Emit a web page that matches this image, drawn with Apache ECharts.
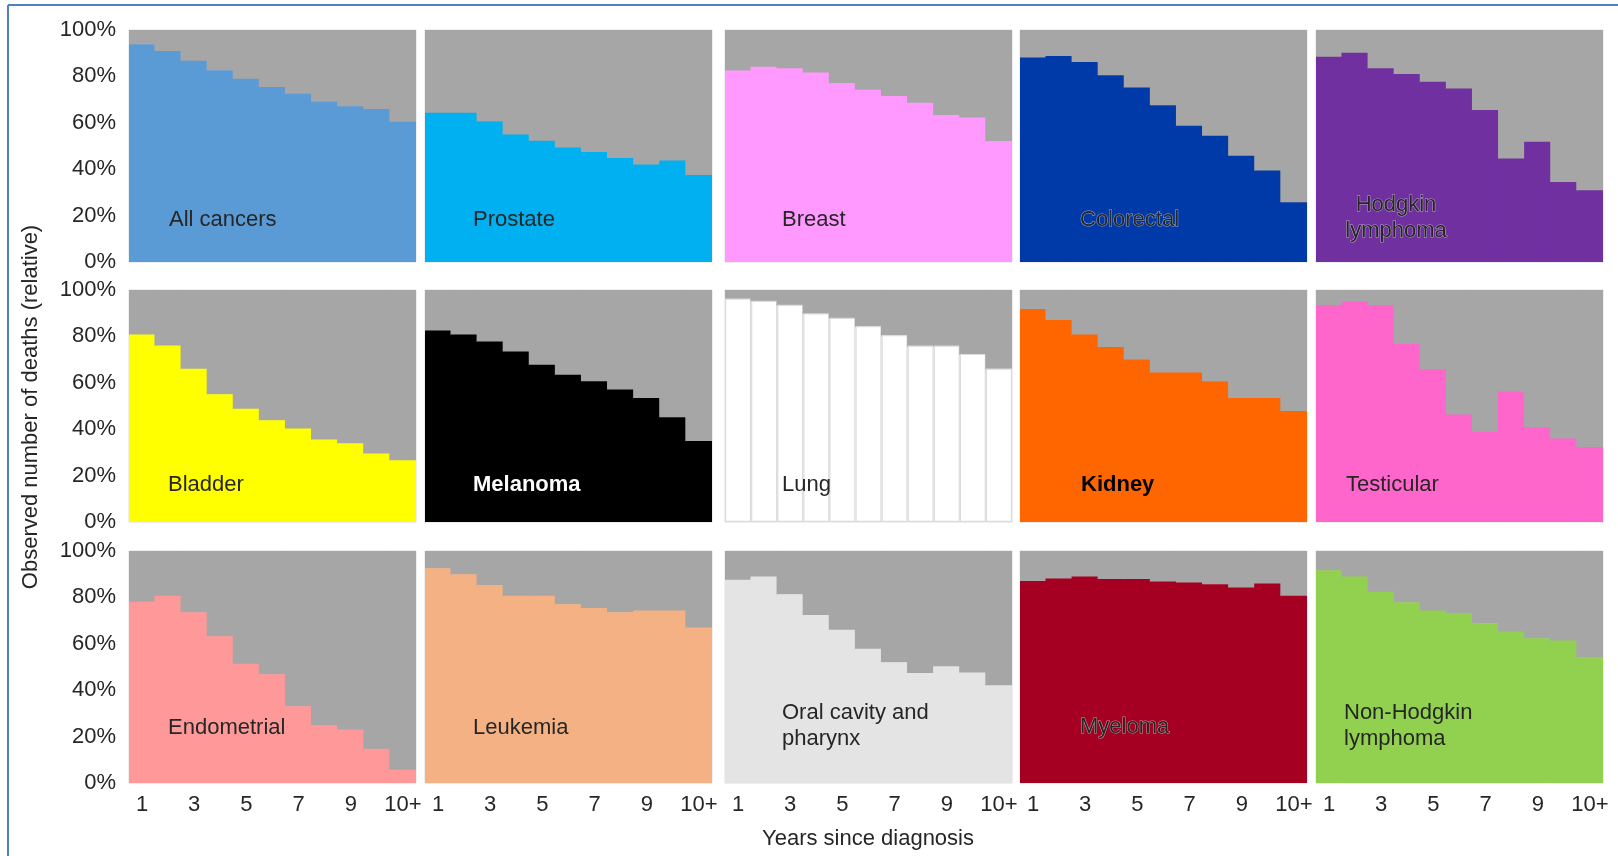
<!DOCTYPE html>
<html>
<head>
<meta charset="utf-8">
<script src="https://cdn.jsdelivr.net/npm/echarts@6/dist/echarts.min.js"></script>
<style>
  html, body { margin: 0; padding: 0; background: #ffffff; }
  #chart { width: 1618px; height: 856px; }
</style>
</head>
<body>
<div id="chart"></div>
<script>
// Years since diagnosis (x categories); only odd years and "10+" are labelled
const years = ['1', '2', '3', '4', '5', '6', '7', '8', '9', '10', '10+'];
const yTicks = [0, 20, 40, 60, 80, 100];

// Share of observed deaths (%) attributed to the cancer, by year since diagnosis
const allCancers   = [93.9, 91.0, 86.7, 82.7, 79.0, 75.4, 72.5, 69.1, 67.1, 66.0, 60.4];
const prostate     = [64.3, 64.3, 60.7, 55.0, 52.3, 49.4, 47.4, 44.8, 42.0, 43.8, 37.5];
const breast       = [82.5, 84.2, 83.5, 81.7, 77.1, 74.2, 71.6, 68.6, 63.3, 62.3, 52.1];
const colorectal   = [88.1, 88.8, 86.2, 80.5, 75.2, 67.6, 58.7, 54.4, 45.8, 39.4, 25.8];
const hodgkin      = [88.5, 90.2, 83.5, 81.0, 77.7, 74.8, 65.5, 44.6, 51.8, 34.5, 30.9];
const bladder      = [80.8, 76.1, 66.1, 55.1, 48.8, 43.9, 40.3, 35.6, 33.9, 29.5, 26.6];
const melanoma     = [82.5, 80.8, 77.8, 73.5, 67.8, 63.5, 60.7, 57.1, 53.5, 45.2, 34.9];
const lung         = [96.1, 95.1, 93.4, 89.7, 87.8, 84.2, 80.3, 75.8, 75.8, 72.2, 65.9];
const kidney       = [91.8, 87.1, 80.8, 75.4, 70.0, 64.4, 64.4, 60.7, 53.4, 53.4, 47.8];
const testicular   = [93.5, 95.1, 93.5, 76.7, 65.9, 46.3, 38.9, 56.3, 40.8, 36.0, 32.3];
const endometrial  = [78.1, 80.7, 73.6, 63.3, 51.4, 46.9, 33.1, 25.0, 23.1, 14.7, 5.7];
const leukemia     = [92.6, 90.0, 85.3, 80.7, 80.7, 77.1, 75.4, 73.6, 74.3, 74.3, 67.0];
const oralPharynx  = [87.6, 89.0, 81.4, 72.4, 66.1, 57.9, 52.1, 47.4, 50.3, 47.6, 42.1];
const myeloma      = [87.1, 88.1, 89.0, 87.9, 87.9, 86.9, 86.4, 85.7, 84.3, 86.0, 80.7];
const nonHodgkin   = [91.7, 89.0, 82.4, 77.9, 74.3, 73.3, 68.9, 65.3, 62.4, 61.4, 54.3];

// Panels in reading order (3 rows x 5 columns)
const panelNames = [
  'All cancers', 'Prostate', 'Breast', 'Colorectal', 'Hodgkin\nlymphoma',
  'Bladder', 'Melanoma', 'Lung', 'Kidney', 'Testicular',
  'Endometrial', 'Leukemia', 'Oral cavity and\npharynx', 'Myeloma', 'Non-Hodgkin\nlymphoma'
];
const panelValues = [
  allCancers, prostate, breast, colorectal, hodgkin,
  bladder, melanoma, lung, kidney, testicular,
  endometrial, leukemia, oralPharynx, myeloma, nonHodgkin
];

// Styling for each panel
const panelColors = [
  '#5b9bd5', '#00b0f0', '#ff99ff', '#0039a8', '#7030a0',
  '#ffff00', '#000000', '#ffffff', '#ff6600', '#ff66cc',
  '#ff9999', '#f4b183', '#e4e4e4', '#a50021', '#92d050'
];
const otherColor = '#a6a6a6';
const FONT = '"Liberation Sans", Arial, sans-serif';
const textDark = '#262626';

// Layout of the grid of panels
const colLeft = [129, 425, 725, 1020, 1316];
const panelWidth = 287;
const rowTop = [30, 290, 551];
const panelHeight = 232;

// Panel caption placement plus text style
const captions = [
  { x: 169, y: 220 }, { x: 473, y: 220 }, { x: 782, y: 220 },
  { x: 1080, y: 220, halo: true }, { x: 1396, y: 218, align: 'center', halo: true },
  { x: 168, y: 485 }, { x: 473, y: 485, fill: '#ffffff', bold: true }, { x: 782, y: 485 },
  { x: 1081, y: 485, bold: true, fill: '#000000' }, { x: 1346, y: 485 },
  { x: 168, y: 728 }, { x: 473, y: 728 }, { x: 782, y: 726 },
  { x: 1080, y: 727, halo: true }, { x: 1344, y: 726 }
];

// Each year is one full-width column: coloured share from 0 up to the value,
// grey remainder from the value up to 100%. Filled columns are widened by a
// fraction of a pixel so that neighbours meet without hairline seams.
function makeRenderItem(color, outlined) {
  return function (params, api) {
    const idx = api.value(0);
    const v = api.value(1);
    const top = api.coord([idx, yTicks[yTicks.length - 1]]);
    const mid = api.coord([idx, v]);
    const base = api.coord([idx, yTicks[0]]);
    const bw = api.size([1, 0])[0];
    const pad = 0.6;
    const x = mid[0] - bw / 2;
    const children = [
      {
        type: 'rect',
        shape: { x: x - pad, y: top[1], width: bw + pad * 2, height: mid[1] - top[1] + 0.6 },
        style: { fill: otherColor }
      }
    ];
    if (outlined) {
      children.push({
        type: 'rect',
        shape: { x: x + 0.6, y: mid[1], width: bw - 1.2, height: base[1] - mid[1] - 0.6 },
        style: { fill: color, stroke: '#dcdcdc', lineWidth: 1.2 }
      });
    } else {
      children.push({
        type: 'rect',
        shape: { x: x - pad, y: mid[1], width: bw + pad * 2, height: base[1] - mid[1] },
        style: { fill: color }
      });
    }
    return { type: 'group', children: children };
  };
}

const grids = [], xAxes = [], yAxes = [], series = [], graphics = [];

panelValues.forEach((vals, i) => {
  const row = Math.floor(i / 5);
  const col = i % 5;
  grids.push({
    left: colLeft[col], top: rowTop[row],
    width: panelWidth, height: panelHeight,
    show: true, borderColor: '#dedede', borderWidth: 1,
    backgroundColor: 'transparent', containLabel: false
  });
  xAxes.push({
    gridIndex: i, type: 'category', data: years,
    axisLine: { show: false }, axisTick: { show: false },
    splitLine: { show: false },
    axisLabel: {
      show: row === 2,
      interval: (idx) => idx % 2 === 0,
      margin: 11,
      color: textDark, fontSize: 22, fontFamily: FONT
    }
  });
  yAxes.push({
    gridIndex: i, type: 'value',
    min: yTicks[0], max: yTicks[yTicks.length - 1], interval: 20,
    axisLine: { show: false }, axisTick: { show: false },
    splitLine: { show: false },
    axisLabel: {
      show: col === 0,
      formatter: '{value}%',
      margin: 13,
      color: textDark, fontSize: 22, fontFamily: FONT
    }
  });
  const outlined = panelColors[i] === '#ffffff';
  series.push({
    type: 'custom', xAxisIndex: i, yAxisIndex: i, silent: true,
    renderItem: makeRenderItem(panelColors[i], outlined),
    encode: { x: 0, y: 1 },
    data: vals.map((v, k) => [k, v]),
    clip: true
  });

  const c = captions[i];
  const style = {
    text: panelNames[i],
    fill: c.fill || textDark,
    font: (c.bold ? 'bold ' : '') + '22px ' + FONT,
    align: c.align || 'left',
    verticalAlign: 'middle',
    lineHeight: 26.5
  };
  if (c.halo) {
    style.stroke = 'rgba(220,220,220,0.7)';
    style.lineWidth = 1;
  }
  graphics.push({ type: 'text', x: c.x, y: c.y, z: 100, style });
});

// Axis titles
graphics.push({
  type: 'text', x: 868, y: 839, z: 100,
  style: {
    text: 'Years since diagnosis', fill: textDark,
    font: '22px ' + FONT, align: 'center', verticalAlign: 'middle'
  }
});
graphics.push({
  type: 'text', x: 31, y: 407, rotation: Math.PI / 2, z: 100,
  style: {
    text: 'Observed number of deaths (relative)', fill: textDark,
    font: '22px ' + FONT, align: 'center', verticalAlign: 'middle'
  }
});

// Blue frame along the top and left edges
graphics.push({
  type: 'line', z: 100,
  shape: { x1: 8, y1: 5, x2: 1618, y2: 5 },
  style: { stroke: '#4f81bd', lineWidth: 2 }
});
graphics.push({
  type: 'line', z: 100,
  shape: { x1: 8, y1: 5, x2: 8, y2: 856 },
  style: { stroke: '#4f81bd', lineWidth: 2 }
});

const chart = echarts.init(document.getElementById('chart'), null, { renderer: 'canvas' });
chart.setOption({
  animation: false,
  backgroundColor: '#ffffff',
  grid: grids,
  xAxis: xAxes,
  yAxis: yAxes,
  series: series,
  graphic: graphics
});
</script>
</body>
</html>
